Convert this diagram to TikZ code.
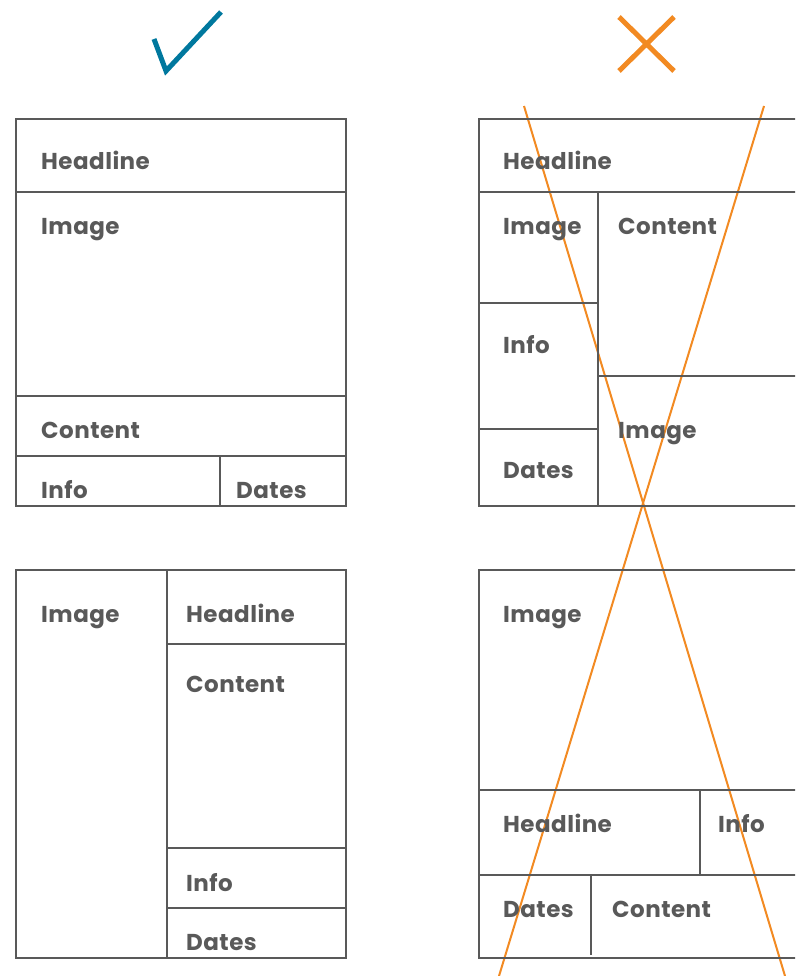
\documentclass[tikz,border=0pt]{standalone}
\usepackage{fontspec}
\setmainfont{Poppins}[LetterSpace=2]
\definecolor{boxgrey}{HTML}{595959}
\definecolor{okblue}{HTML}{00789E}
\definecolor{badorange}{HTML}{F28A22}
\tikzset{
  lbl/.style={anchor=base west,inner sep=0pt,text=boxgrey,font=\fontsize{23}{27}\selectfont\bfseries},
  frame/.style={draw=boxgrey,line width=2pt},
  cross/.style={draw=badorange,line width=2pt}
}
\begin{document}
\begin{tikzpicture}[x=1pt,y=-1pt]
                \useasboundingbox (0,0) rectangle (795,976);
                \clip (0,0) rectangle (795,976);

                % marks
                \draw[okblue,line width=5pt] (154,39) -- (166,71) -- (221,12);
                \draw[badorange,line width=5pt] (619,17) -- (674,71); \draw[badorange,line width=5pt] (674,17) -- (619,71);

                % strike-through of the right column
                \coordinate (s1) at (524,106); \coordinate (e1) at (785,976);
                \coordinate (s2) at (764,106); \coordinate (e2) at (499,976);
                \draw[cross] (s1) -- (e1); \draw[cross] (s2) -- (e2);

                % top left
                \draw[frame] (16,119) rectangle (346,506);
                \draw[frame] (16,192) -- (346,192); \draw[frame] (16,396) -- (346,396); \draw[frame] (16,456) -- (346,456);
                \draw[frame] (220,456) -- (220,506);
                \node[lbl] (tlhead) at (41,170) {Headline};
                \node[lbl] (tlimg) at (41,235) {Image};
                \node[lbl] (tlcont) at (41,438) {Content};
                \node[lbl] (tlinfo) at (41,498) {Info};
                \node[lbl] (tldate) at (236,498) {Dates};

                % top right
                \draw[frame] (800,119) -- (479,119) -- (479,506) -- (800,506);
                \draw[frame] (479,192) -- (800,192); \draw[frame] (598,192) -- (598,506);
                \draw[frame] (479,303) -- (598,303); \draw[frame] (479,429) -- (598,429); \draw[frame] (598,376) -- (800,376);
                \node[lbl] (trhead) at (503,170) {Headline};
                \node[lbl] (trimg) at (503,235) {Image};
                \node[lbl] (trcont) at (618,235) {Content};
                \node[lbl] (trinfo) at (503,353) {Info};
                \node[lbl] (trdate) at (503,478) {Dates};
                \node[lbl] (trimgb) at (618,438) {Image};

                % bottom left
                \draw[frame] (16,570) rectangle (346,958);
                \draw[frame] (167,570) -- (167,958);
                \draw[frame] (167,644) -- (346,644); \draw[frame] (167,848) -- (346,848); \draw[frame] (167,908) -- (346,908);
                \node[lbl] (blimg) at (41,622) {Image};
                \node[lbl] (blhead) at (186,622) {Headline};
                \node[lbl] (blcont) at (186,692) {Content};
                \node[lbl] (blinfo) at (186,891) {Info};
                \node[lbl] (bldate) at (186,950) {Dates};

                % bottom right
                \draw[frame] (800,570) -- (479,570) -- (479,958) -- (800,958);
                \draw[frame] (479,790) -- (800,790); \draw[frame] (479,875) -- (800,875);
                \draw[frame] (700,790) -- (700,875); \draw[frame] (591,875) -- (591,955);
                \node[lbl] (brimg) at (503,622) {Image};
                \node[lbl] (brhead) at (503,832) {Headline};
                \node[lbl] (brinfo) at (718,832) {Info};
                \node[lbl] (brdate) at (503,917) {Dates};
                \node[lbl] (brcont) at (612,917) {Content};
            \end{tikzpicture}
\end{document}
